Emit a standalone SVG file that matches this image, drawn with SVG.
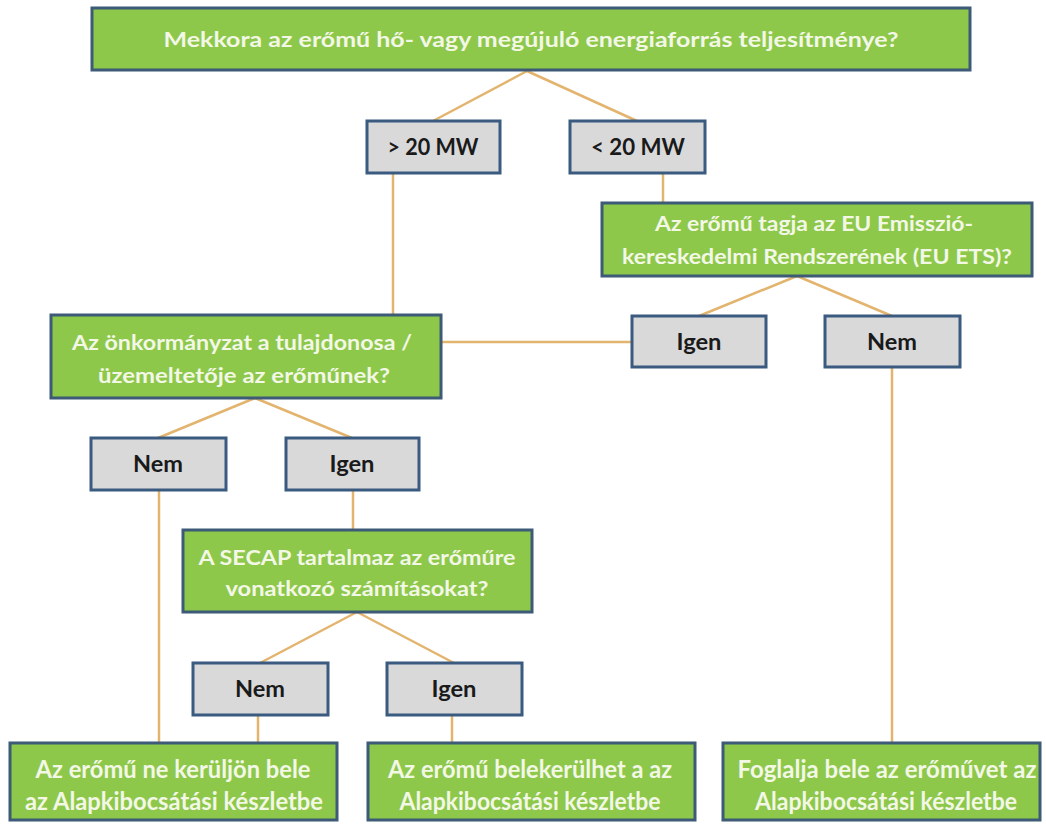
<svg xmlns="http://www.w3.org/2000/svg" width="1046" height="825" viewBox="0 0 1046 825">
<style>
.q{fill:#8dc84a;stroke:#3d5a76;stroke-width:3}
.a{fill:#d9d9da;stroke:#3b5a80;stroke-width:3}
.qt{font-family:Lato,"Open Sans","Liberation Sans",sans-serif;font-weight:bold;fill:#f3f7e6;text-anchor:middle}
.at{font-family:Lato,"Open Sans","Liberation Sans",sans-serif;font-weight:bold;fill:#1a1a1a;text-anchor:middle;font-size:23px}
#connectors line{stroke:#e3b46e;stroke-width:2.5}
</style>
<rect width="1046" height="825" fill="#ffffff"/>
<g id="connectors">
<line x1="527" y1="71" x2="433" y2="121"/>
<line x1="527" y1="71" x2="637" y2="121"/>
<line x1="393" y1="173" x2="393" y2="315"/>
<line x1="663" y1="173" x2="663" y2="203"/>
<line x1="797" y1="276" x2="699" y2="316"/>
<line x1="797" y1="276" x2="892" y2="316"/>
<line x1="632" y1="342" x2="441" y2="342"/>
<line x1="892" y1="367" x2="892" y2="743"/>
<line x1="255" y1="398" x2="158" y2="438"/>
<line x1="255" y1="398" x2="352" y2="438"/>
<line x1="159" y1="490" x2="159" y2="743"/>
<line x1="353" y1="490" x2="353" y2="530"/>
<line x1="357" y1="612" x2="260" y2="663"/>
<line x1="357" y1="612" x2="454" y2="663"/>
<line x1="258" y1="715" x2="258" y2="743"/>
<line x1="452" y1="715" x2="452" y2="743"/>
</g>
<g id="q-top">
<rect class="q" x="92" y="8" width="878" height="62"/>
<text class="qt" x="531" y="47" font-size="21" textLength="735" lengthAdjust="spacingAndGlyphs">Mekkora az erőmű hő- vagy megújuló energiaforrás teljesítménye?</text>
</g>
<g id="a-gt20">
<rect class="a" x="367" y="121" width="133" height="52"/>
<text class="at" x="433" y="155" textLength="91" lengthAdjust="spacingAndGlyphs">&gt; 20 MW</text>
</g>
<g id="a-lt20">
<rect class="a" x="570" y="121" width="135" height="52"/>
<text class="at" x="638" y="155" textLength="94" lengthAdjust="spacingAndGlyphs">&lt; 20 MW</text>
</g>
<g id="q-ets">
<rect class="q" x="602" y="203" width="430" height="73"/>
<text class="qt" x="814" y="231" font-size="21" textLength="318" lengthAdjust="spacingAndGlyphs">Az erőmű tagja az EU  Emisszió-</text>
<text class="qt" x="817" y="264" font-size="21" textLength="390" lengthAdjust="spacingAndGlyphs">kereskedelmi Rendszerének (EU ETS)?</text>
</g>
<g id="a-ets-igen">
<rect class="a" x="632" y="316" width="134" height="51"/>
<text class="at" x="699" y="350" textLength="45" lengthAdjust="spacingAndGlyphs">Igen</text>
</g>
<g id="a-ets-nem">
<rect class="a" x="825" y="316" width="135" height="51"/>
<text class="at" x="892" y="350" textLength="50" lengthAdjust="spacingAndGlyphs">Nem</text>
</g>
<g id="q-onk">
<rect class="q" x="51" y="315" width="390" height="83"/>
<text class="qt" x="242" y="350" font-size="21" textLength="340" lengthAdjust="spacingAndGlyphs">Az önkormányzat a tulajdonosa /</text>
<text class="qt" x="244" y="383" font-size="21" textLength="292" lengthAdjust="spacingAndGlyphs">üzemeltetője az erőműnek?</text>
</g>
<g id="a-onk-nem">
<rect class="a" x="91" y="438" width="135" height="52"/>
<text class="at" x="158" y="472" textLength="50" lengthAdjust="spacingAndGlyphs">Nem</text>
</g>
<g id="a-onk-igen">
<rect class="a" x="286" y="438" width="133" height="52"/>
<text class="at" x="352" y="472" textLength="45" lengthAdjust="spacingAndGlyphs">Igen</text>
</g>
<g id="q-secap">
<rect class="q" x="183" y="530" width="349" height="82"/>
<text class="qt" x="357" y="565" font-size="21" textLength="317" lengthAdjust="spacingAndGlyphs">A SECAP tartalmaz az erőműre</text>
<text class="qt" x="357" y="596" font-size="21" textLength="263" lengthAdjust="spacingAndGlyphs">vonatkozó számításokat?</text>
</g>
<g id="a-secap-nem">
<rect class="a" x="193" y="663" width="135" height="52"/>
<text class="at" x="260" y="697" textLength="50" lengthAdjust="spacingAndGlyphs">Nem</text>
</g>
<g id="a-secap-igen">
<rect class="a" x="387" y="663" width="135" height="52"/>
<text class="at" x="454" y="697" textLength="45" lengthAdjust="spacingAndGlyphs">Igen</text>
</g>
<g id="r-ne">
<rect class="q" x="10" y="743" width="327" height="77"/>
<text class="qt" x="173" y="778" font-size="24" textLength="275" lengthAdjust="spacingAndGlyphs">Az erőmű ne kerüljön bele</text>
<text class="qt" x="174" y="810" font-size="24" textLength="298" lengthAdjust="spacingAndGlyphs">az Alapkibocsátási készletbe</text>
</g>
<g id="r-lehet">
<rect class="q" x="368" y="743" width="327" height="77"/>
<text class="qt" x="530" y="778" font-size="24" textLength="284" lengthAdjust="spacingAndGlyphs">Az erőmű belekerülhet a az</text>
<text class="qt" x="530" y="810" font-size="24" textLength="261" lengthAdjust="spacingAndGlyphs">Alapkibocsátási készletbe</text>
</g>
<g id="r-foglalja">
<rect class="q" x="723" y="743" width="317" height="77"/>
<text class="qt" x="887" y="778" font-size="24" textLength="299" lengthAdjust="spacingAndGlyphs">Foglalja bele az erőművet az</text>
<text class="qt" x="886" y="810" font-size="24" textLength="262" lengthAdjust="spacingAndGlyphs">Alapkibocsátási készletbe</text>
</g>
</svg>
